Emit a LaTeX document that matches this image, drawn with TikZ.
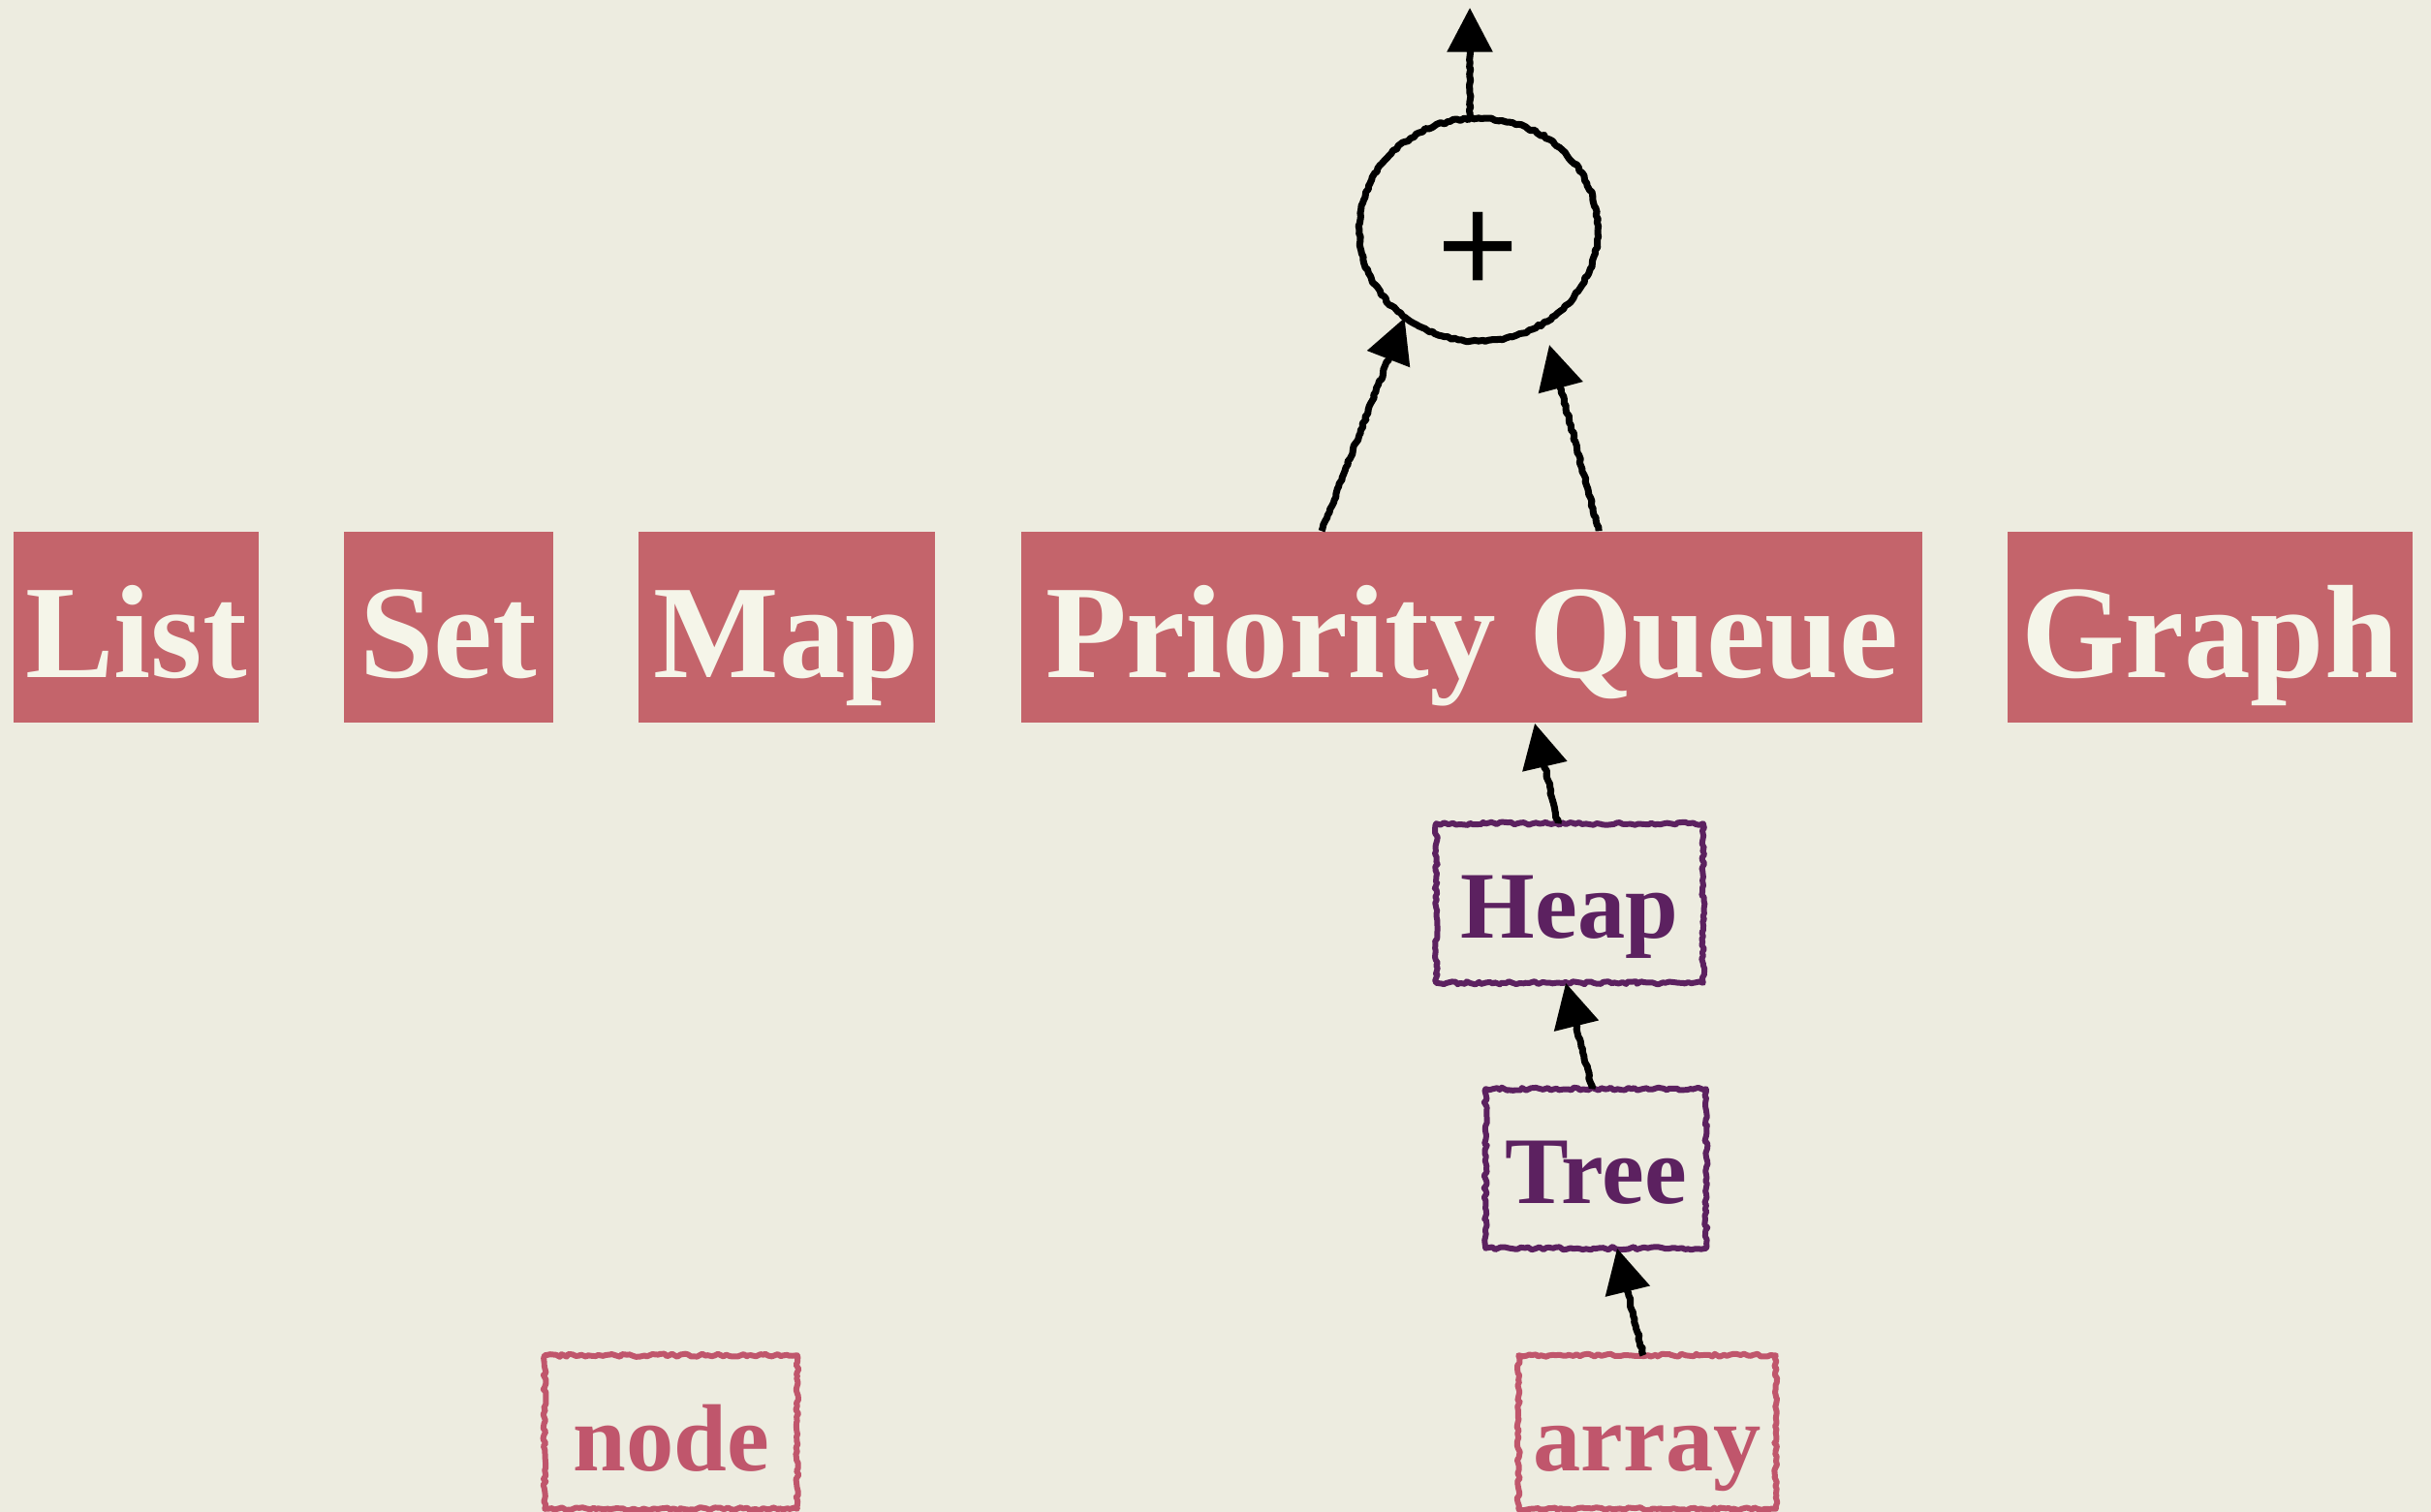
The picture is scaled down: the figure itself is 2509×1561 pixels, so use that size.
\documentclass[tikz,border=0pt]{standalone}
\usepackage{fontspec}
\setmainfont{Liberation Serif}
\newfontfamily\plusfont{Liberation Sans}
\usetikzlibrary{arrows.meta,shapes.geometric,decorations.pathmorphing,calc}

\definecolor{paper}{HTML}{EDECE0}
\definecolor{rosebox}{HTML}{C4646B}
\definecolor{cream}{HTML}{F5F5E9}
\definecolor{plum}{HTML}{5C2160}
\definecolor{rosepen}{HTML}{C0566C}

\begin{document}
\begin{tikzpicture}[x=0.01cm,y=-0.01cm,
  adt/.style={fill=rosebox, text=cream, inner sep=0pt,
    minimum height=1.97cm, text height=1.03cm, text depth=0pt,
    font=\fontsize{39}{46}\selectfont\bfseries},
  crayon/.style={decorate, line join=round,
    decoration={random steps, segment length=1pt, amplitude=0.45pt}},
  implbox/.style={inner sep=0pt,
    minimum height=1.63cm, text height=0.72cm, text depth=0pt,
    font=\fontsize{28}{32}\selectfont\bfseries},
  structure/.style={implbox, text=plum},
  storage/.style={implbox, text=rosepen, minimum height=1.57cm, text height=0.79cm},
  frame/.style={crayon, line width=1.7pt},
  link/.style={line width=2pt, line join=round, decorate,
    decoration={random steps, segment length=1pt, amplitude=0.3pt, post length=4pt},
    -{Triangle[length=13pt,width=13pt]}}
]
% paper
\fill[paper] (0,0) rectangle (2509,1561);
\useasboundingbox (0,0) rectangle (2509,1561);

% abstract data types
\node[adt, minimum width=2.53cm] (list)  at (140.5,647.5) {List};
\node[adt, minimum width=2.16cm] (set)   at (463,647.5)   {Set};
\node[adt, minimum width=3.06cm] (map)   at (812,647.5)   {Map};
\node[adt, minimum width=9.30cm] (pq)    at (1519,647.5)  {Priority Queue};
\node[adt, minimum width=4.18cm] (graph) at (2281,647.5)  {Graph};

% combining node
\node[ellipse, inner sep=0pt, minimum width=2.46cm, minimum height=2.30cm,
  font=\fontsize{41}{48}\selectfont\plusfont, text height=37pt, text depth=0pt]
  (sum) at (1526,237) {+};
\draw[crayon, line width=2pt, decoration={amplitude=0.35pt}]
  (sum.center) ellipse [x radius=123, y radius=115];
\coordinate (top) at (1517,8);
\coordinate (gapR) at (1599,356);

% implementations
\node[structure, minimum width=2.74cm] (heap) at (1620,932.5)  {Heap};
\node[structure, minimum width=2.26cm] (tree) at (1647,1206.5) {Tree};
\node[storage,   minimum width=2.64cm] (arr)  at (1700,1478.5) {array};
\node[storage,   minimum width=2.59cm] (nd)   at (692.5,1478.5) {node};

\draw[frame, plum]    (heap.south west) rectangle (heap.north east);
\draw[frame, plum]    (tree.south west) rectangle (tree.north east);
\draw[frame, rosepen] (arr.south west)  rectangle (arr.north east);
\draw[frame, rosepen] (nd.south west)   rectangle (nd.north east);

% connectors
\draw[link] (sum.north -| top) -- (top);
\draw[link] ($(pq.north west)+(311,0)$) -- (sum.-130);
\draw[link] ($(pq.north west)+(597,0)$) -- (gapR);
\draw[link] ($(heap.north)+(-12,0)$) -- ($(pq.south)+(65,0)$);
\draw[link] ($(tree.north)+(-4,0)$) -- ($(heap.south)+(-4,0)$);
\draw[link] ($(arr.north)+(-4,0)$) -- ($(tree.south)+(22,0)$);
\end{tikzpicture}
\end{document}
